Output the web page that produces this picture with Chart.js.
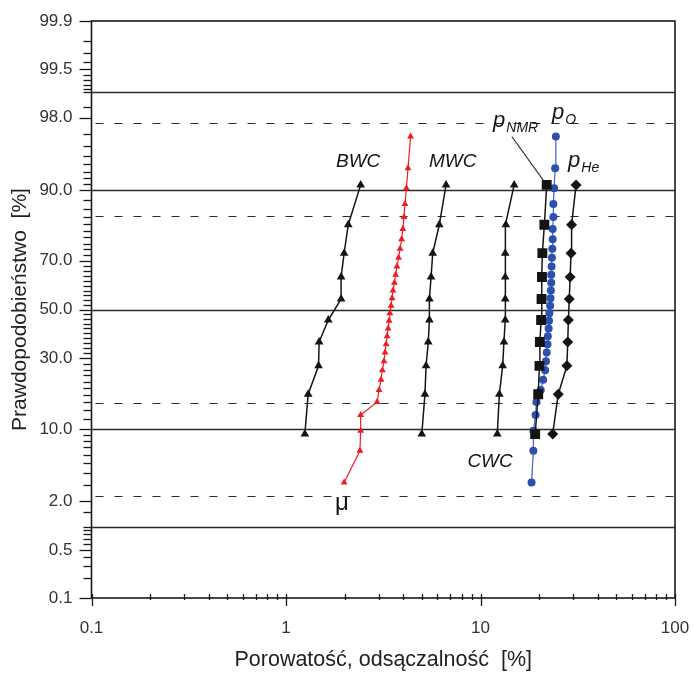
<!DOCTYPE html>
<html lang="pl">
<head>
<meta charset="UTF-8">
<title>Prawdopodobieństwo - porowatość</title>
<script src="https://cdn.jsdelivr.net/npm/chart.js@4.4.0/dist/chart.umd.min.js"></script>
<style>
  body { margin: 0; background: #fff; }
  canvas { display: block; }
</style>
</head>
<body>
<canvas id="wykres" width="693" height="673"></canvas>

<script>
// prawdopodobieństwo [%] dla serii 10- i 30-punktowych
const prob10 = [9.1, 18.2, 27.3, 36.4, 45.5, 54.5, 63.6, 72.7, 81.8, 90.9];
const prob30 = [3.2, 6.5, 9.7, 12.9, 16.1, 19.4, 22.6, 25.8, 29.0, 32.3, 35.5, 38.7, 41.9, 45.2, 48.4,
                51.6, 54.8, 58.1, 61.3, 64.5, 67.7, 71.0, 74.2, 77.4, 80.6, 83.9, 87.1, 90.3, 93.5, 96.8];

// wartości [%]
const bwc  = [1.25, 1.30, 1.47, 1.48, 1.65, 1.92, 1.92, 1.99, 2.09, 2.42];
const mwc  = [4.99, 5.18, 5.25, 5.39, 5.46, 5.46, 5.57, 5.68, 6.14, 6.65];
const cwc  = [12.2, 12.5, 13.0, 13.2, 13.4, 13.4, 13.4, 13.4, 13.5, 14.9];
const pNmr = [19.1, 19.8, 20.1, 20.2, 20.5, 20.6, 20.7, 20.8, 21.3, 21.9];
const pHe  = [23.5, 25.1, 27.8, 28.1, 28.3, 28.6, 28.9, 29.2, 29.4, 31.0];
const mu   = [1.99, 2.40, 2.42, 2.42, 2.94, 3.01, 3.08, 3.13, 3.19, 3.23, 3.27, 3.31, 3.35, 3.39, 3.42,
              3.47, 3.51, 3.55, 3.61, 3.66, 3.72, 3.79, 3.86, 3.93, 3.99, 4.04, 4.09, 4.16, 4.24, 4.37];
const pO   = [18.3, 18.7, 18.7, 19.2, 19.4, 20.4, 21.0, 21.5, 21.7, 21.9, 22.1, 22.2, 22.4, 22.5, 22.6,
              22.8, 22.9, 23.0, 23.1, 23.1, 23.2, 23.3, 23.4, 23.5, 23.5, 23.7, 23.7, 23.9, 24.2, 24.4];

// osie
const xTickLabels = ['0.1', '1', '10', '100'];
const xMajor = [0.1, 1, 10, 100];
const xMinor = [0.2, 0.3, 0.4, 0.5, 0.6, 0.7, 0.8, 0.9, 2, 3, 4, 5, 6, 7, 8, 9, 20, 30, 40, 50, 60, 70, 80, 90];
const yTickLabels = ['0.1', '0.5', '2.0', '10.0', '30.0', '50.0', '70.0', '90.0', '98.0', '99.5', '99.9'];
const yMajor = [0.1, 0.5, 2, 10, 30, 50, 70, 90, 98, 99.5, 99.9];
const yMinor = [0.2, 0.3, 0.4, 0.6, 0.7, 0.8, 0.9, 1, 1.5, 3, 4, 5, 6, 7, 8, 9,
                12, 14, 16, 18, 20, 22, 24, 26, 28, 32, 34, 36, 38, 40, 42, 44, 46, 48,
                52, 54, 56, 58, 60, 62, 64, 66, 68, 72, 74, 76, 78, 80, 82, 84, 86, 88,
                91, 92, 93, 94, 95, 96, 97, 98.5, 99, 99.1, 99.2, 99.3, 99.4, 99.6, 99.7, 99.8];

// linie poziome: ciągłe i przerywane (±1σ, ±2σ)
const solidLines = [1, 10, 50, 90, 99];
const dashedLines = [2.28, 15.87, 84.13, 97.72];

// podpisy serii [x, y%]
const podpisy = [
    { text: 'BWC', x: 2.35, y: 93.6, align: 'center' },
    { text: 'MWC', x: 7.2, y: 93.6, align: 'center' },
    { text: 'CWC', x: 11.2, y: 4.6, align: 'center' },
];
const podpisyP = [
    { sub: 'NMR', x: 11.6, y: 97.45 },
    { sub: 'O', x: 23.3, y: 97.95 },
    { sub: 'He', x: 28.2, y: 93.6 },
];
const podpisMu = { text: 'μ', x: 1.94, y: 1.6 };
const odnosnik = { x: 14.5, y: 96.8 };

// odwrotność dystrybuanty rozkładu normalnego (Acklam)
function probit(p) {
    const a = [-3.969683028665376e+01, 2.209460984245205e+02, -2.759285104469687e+02, 1.383577518672690e+02, -3.066479806614716e+01, 2.506628277459239e+00];
    const b = [-5.447609879822406e+01, 1.615858368580409e+02, -1.556989798598866e+02, 6.680131188771972e+01, -1.328068155288572e+01];
    const c = [-7.784894002430293e-03, -3.223964580411365e-01, -2.400758277161838e+00, -2.549732539343734e+00, 4.374664141464968e+00, 2.938163982698783e+00];
    const d = [7.784695709041462e-03, 3.224671290700398e-01, 2.445134137142996e+00, 3.754408661907416e+00];
    const pl = 0.02425;
    let q, r;
    if (p < pl) {
        q = Math.sqrt(-2 * Math.log(p));
        return (((((c[0] * q + c[1]) * q + c[2]) * q + c[3]) * q + c[4]) * q + c[5]) / ((((d[0] * q + d[1]) * q + d[2]) * q + d[3]) * q + 1);
    }
    if (p <= 1 - pl) {
        q = p - 0.5; r = q * q;
        return (((((a[0] * r + a[1]) * r + a[2]) * r + a[3]) * r + a[4]) * r + a[5]) * q / (((((b[0] * r + b[1]) * r + b[2]) * r + b[3]) * r + b[4]) * r + 1);
    }
    q = Math.sqrt(-2 * Math.log(1 - p));
    return -(((((c[0] * q + c[1]) * q + c[2]) * q + c[3]) * q + c[4]) * q + c[5]) / ((((d[0] * q + d[1]) * q + d[2]) * q + d[3]) * q + 1);
}

function normCdf(z) {
    // Abramowitz-Stegun 7.1.26
    const t = 1 / (1 + 0.3275911 * Math.abs(z) / Math.SQRT2);
    const y = 1 - (((((1.061405429 * t - 1.453152027) * t) + 1.421413741) * t - 0.284496736) * t + 0.254829592) * t * Math.exp(-z * z / 2);
    return z >= 0 ? (1 + y) / 2 : (1 - y) / 2;
}

// skala prawdopodobieństwa (siatka normalna)
class ProbitScale extends Chart.Scale {
    determineDataLimits() {
        this.min = this.options.min;
        this.max = this.options.max;
    }
    buildTicks() {
        return yMajor.concat(yMinor).sort((a, b) => a - b).map(v => ({ value: v }));
    }
    configure() {
        super.configure();
        this._zLo = probit(this.min / 100);
        this._zHi = probit(this.max / 100);
    }
    getLabelForValue(v) { return v + ' %'; }
    getPixelForValue(v) {
        return this.getPixelForDecimal((probit(v / 100) - this._zLo) / (this._zHi - this._zLo));
    }
    getValueForPixel(px) {
        const z = this._zLo + this.getDecimalForPixel(px) * (this._zHi - this._zLo);
        return 100 * normCdf(z);
    }
}
ProbitScale.id = 'probit';
ProbitScale.defaults = {};
Chart.register(ProbitScale);

function punkty(xs, ps) {
    return xs.map((v, i) => ({ x: v, y: ps[i] }));
}

const czarny = '#141414';
const fontTxt = 'Liberation Sans, Arial, sans-serif';

function seria(label, xs, ps, kolor, styl, r, lw) {
    return {
        label: label,
        data: punkty(xs, ps),
        borderColor: kolor,
        backgroundColor: kolor,
        borderWidth: lw,
        pointStyle: styl,
        pointRadius: r,
        pointBorderWidth: 0,
        tension: 0
    };
}

// linie siatki, ramka i znaczniki osi
const siatka = {
    id: 'siatka',
    beforeDatasetsDraw(chart) {
        const { ctx, chartArea: a, scales: { x, y } } = chart;
        ctx.save();
        ctx.strokeStyle = '#2a2a2a';
        ctx.lineWidth = 1.3;
        solidLines.forEach(p => {
            const py = Math.round(y.getPixelForValue(p)) + 0.5;
            ctx.beginPath(); ctx.moveTo(a.left, py); ctx.lineTo(a.right, py); ctx.stroke();
        });
        ctx.setLineDash([8, 11]);
        ctx.lineWidth = 1.2;
        dashedLines.forEach(p => {
            const py = Math.round(y.getPixelForValue(p)) + 0.5;
            ctx.beginPath(); ctx.moveTo(a.left + 4, py); ctx.lineTo(a.right, py); ctx.stroke();
        });
        ctx.setLineDash([]);

        // ramka
        ctx.lineWidth = 1.6;
        ctx.strokeStyle = '#1a1a1a';
        ctx.strokeRect(a.left, a.top, a.right - a.left, a.bottom - a.top);

        // znaczniki osi Y
        ctx.lineWidth = 1.3;
        y.ticks.forEach(t => {
            const py = Math.round(y.getPixelForValue(t.value)) + 0.5;
            const len = yMajor.includes(t.value) ? 12 : 8;
            ctx.beginPath(); ctx.moveTo(a.left - len, py); ctx.lineTo(a.left, py); ctx.stroke();
        });
        // znaczniki osi X
        x.ticks.forEach(t => {
            const px = Math.round(x.getPixelForValue(t.value)) + 0.5;
            ctx.beginPath();
            if (xMajor.includes(t.value)) { ctx.moveTo(px, a.bottom - 4); ctx.lineTo(px, a.bottom + 8); }
            else { ctx.moveTo(px, a.bottom - 4); ctx.lineTo(px, a.bottom + 2); }
            ctx.stroke();
        });
        ctx.restore();
    },
    afterDatasetsDraw(chart) {
        const { ctx, scales: { x, y } } = chart;
        ctx.save();
        ctx.fillStyle = czarny;
        ctx.textBaseline = 'alphabetic';

        ctx.font = 'italic 19px ' + fontTxt;
        podpisy.forEach(p => {
            ctx.textAlign = p.align;
            ctx.fillText(p.text, x.getPixelForValue(p.x), y.getPixelForValue(p.y));
        });

        ctx.textAlign = 'left';
        podpisyP.forEach(p => {
            const px = x.getPixelForValue(p.x);
            const py = y.getPixelForValue(p.y);
            ctx.font = 'italic 22px ' + fontTxt;
            ctx.fillText('p', px, py);
            const w = ctx.measureText('p').width;
            ctx.font = 'italic 14px ' + fontTxt;
            ctx.fillText(p.sub, px + w + 1, py + 5);
        });

        ctx.font = '24px ' + fontTxt;
        ctx.textAlign = 'center';
        ctx.fillText(podpisMu.text, x.getPixelForValue(podpisMu.x), y.getPixelForValue(podpisMu.y));

        // odnośnik od p_NMR do najwyższego punktu
        const n = pNmr.length - 1;
        ctx.strokeStyle = '#333';
        ctx.lineWidth = 1.1;
        ctx.beginPath();
        ctx.moveTo(x.getPixelForValue(odnosnik.x), y.getPixelForValue(odnosnik.y));
        ctx.lineTo(x.getPixelForValue(pNmr[n]) - 3, y.getPixelForValue(prob10[n]) - 4);
        ctx.stroke();
        ctx.restore();
    }
};

new Chart(document.getElementById('wykres'), {
    type: 'line',
    data: {
        datasets: [
            seria('BWC', bwc, prob10, czarny, 'triangle', 5, 1.5),
            seria('MWC', mwc, prob10, czarny, 'triangle', 5, 1.5),
            seria('CWC', cwc, prob10, czarny, 'triangle', 5, 1.5),
            seria('μ', mu, prob30, '#f01c24', 'triangle', 4, 1.2),
            seria('pHe', pHe, prob10, czarny, 'rectRot', 5.5, 1.5),
            seria('pNMR', pNmr, prob10, czarny, 'rect', 7, 1.5),
            Object.assign(seria('pO', pO, prob30, '#2d4fae', 'circle', 4, 1.3), { borderColor: '#5469c2' })
        ]
    },
    options: {
        responsive: false,
        animation: false,
        devicePixelRatio: 1,
        events: [],
        layout: { padding: { top: 21, right: 18, left: 0, bottom: 0 } },
        plugins: { legend: { display: false }, tooltip: { enabled: false } },
        scales: {
            x: {
                type: 'logarithmic',
                min: 0.1,
                max: 100,
                afterBuildTicks: s => { s.ticks = xMajor.concat(xMinor).sort((a, b) => a - b).map(v => ({ value: v })); },
                afterFit: s => { s.height = 75; s.paddingLeft = 0; s.paddingRight = 0; },
                grid: { display: false, drawTicks: false },
                border: { display: false },
                ticks: {
                    autoSkip: false,
                    maxRotation: 0,
                    padding: 20,
                    color: '#333',
                    font: { family: fontTxt, size: 17 },
                    callback: (v) => {
                        const i = xMajor.indexOf(v);
                        return i >= 0 ? xTickLabels[i] : '';
                    }
                },
                title: {
                    display: true,
                    text: 'Porowatość, odsączalność  [%]',
                    color: '#222',
                    font: { family: fontTxt, size: 21.5 },
                    padding: { top: 0, bottom: 0 }
                }
            },
            y: {
                type: 'probit',
                position: 'left',
                min: 0.1,
                max: 99.9,
                afterFit: s => { s.width = 91.5; s.paddingTop = 0; s.paddingBottom = 0; },
                grid: { display: false, drawTicks: false },
                border: { display: false },
                ticks: {
                    autoSkip: false,
                    padding: 19,
                    color: '#333',
                    font: { family: fontTxt, size: 17 },
                    callback: (v) => {
                        const i = yMajor.indexOf(v);
                        return i >= 0 ? yTickLabels[i] : '';
                    }
                },
                title: {
                    display: true,
                    text: 'Prawdopodobieństwo  [%]',
                    color: '#222',
                    font: { family: fontTxt, size: 21 },
                    padding: { top: 8, bottom: 0 }
                }
            }
        }
    },
    plugins: [siatka]
});
</script>
</body>
</html>
